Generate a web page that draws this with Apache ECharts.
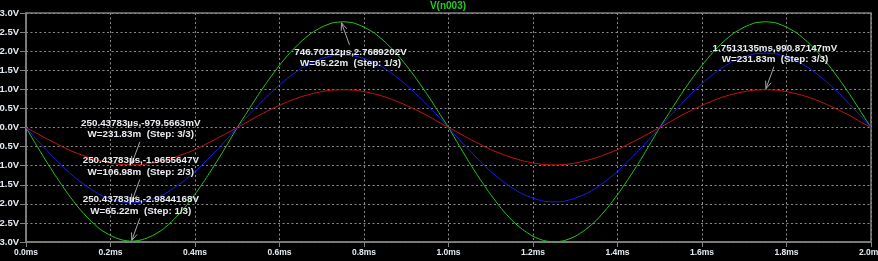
<!DOCTYPE html>
<html>
<head>
<meta charset="utf-8">
<script src="https://cdn.jsdelivr.net/npm/echarts@6/dist/echarts.min.js"></script>
<style>
html,body{margin:0;padding:0;background:#000;}
#c{width:878px;height:261px;}
</style>
</head>
<body>
<div id="c"></div>
<script>
// time points (ms)
var timeMs = [0.000,0.025,0.050,0.075,0.100,0.125,0.150,0.175,0.200,0.225,0.250,0.275,0.300,0.325,0.350,0.375,0.400,0.425,0.450,0.475,
0.500,0.525,0.550,0.575,0.600,0.625,0.650,0.675,0.700,0.725,0.750,0.775,0.800,0.825,0.850,0.875,0.900,0.925,0.950,0.975,
1.000,1.025,1.050,1.075,1.100,1.125,1.150,1.175,1.200,1.225,1.250,1.275,1.300,1.325,1.350,1.375,1.400,1.425,1.450,1.475,
1.500,1.525,1.550,1.575,1.600,1.625,1.650,1.675,1.700,1.725,1.750,1.775,1.800,1.825,1.850,1.875,1.900,1.925,1.950,1.975,2.000];

// Step 1/3 (green)
var vStep1 = [0,-0.47,-0.92,-1.35,-1.75,-2.11,-2.41,-2.66,-2.83,-2.94,-2.98,-2.94,-2.83,-2.66,-2.41,-2.11,-1.75,-1.35,-0.92,-0.47,
0,0.43,0.86,1.26,1.63,1.96,2.24,2.47,2.63,2.74,2.77,2.74,2.63,2.47,2.24,1.96,1.63,1.26,0.86,0.43,
0,-0.47,-0.93,-1.36,-1.76,-2.12,-2.43,-2.67,-2.85,-2.96,-3.0,-2.96,-2.85,-2.67,-2.43,-2.12,-1.76,-1.36,-0.93,-0.47,
0,0.43,0.86,1.26,1.63,1.96,2.24,2.47,2.63,2.74,2.77,2.74,2.63,2.47,2.24,1.96,1.63,1.26,0.86,0.43,0];

// Step 2/3 (blue)
var vStep2 = [0,-0.31,-0.61,-0.89,-1.16,-1.39,-1.59,-1.76,-1.87,-1.95,-1.97,-1.95,-1.87,-1.76,-1.59,-1.39,-1.16,-0.89,-0.61,-0.31,
0,0.30,0.59,0.86,1.12,1.34,1.54,1.69,1.81,1.88,1.90,1.88,1.81,1.69,1.54,1.34,1.12,0.86,0.59,0.30,
0,-0.31,-0.60,-0.89,-1.15,-1.38,-1.58,-1.74,-1.85,-1.93,-1.95,-1.93,-1.85,-1.74,-1.58,-1.38,-1.15,-0.89,-0.60,-0.31,
0,0.31,0.60,0.89,1.15,1.38,1.58,1.74,1.85,1.93,1.95,1.93,1.85,1.74,1.58,1.38,1.15,0.89,0.60,0.31,0];

// Step 3/3 (red)
var vStep3 = [0,-0.15,-0.30,-0.44,-0.58,-0.69,-0.79,-0.87,-0.93,-0.97,-0.98,-0.97,-0.93,-0.87,-0.79,-0.69,-0.58,-0.44,-0.30,-0.15,
0,0.15,0.31,0.45,0.58,0.70,0.80,0.88,0.94,0.98,0.99,0.98,0.94,0.88,0.80,0.70,0.58,0.45,0.31,0.15,
0,-0.15,-0.30,-0.44,-0.58,-0.69,-0.79,-0.87,-0.93,-0.97,-0.98,-0.97,-0.93,-0.87,-0.79,-0.69,-0.58,-0.44,-0.30,-0.15,
0,0.15,0.31,0.45,0.58,0.70,0.80,0.88,0.94,0.98,0.99,0.98,0.94,0.88,0.80,0.70,0.58,0.45,0.31,0.15,0];

// cursor annotations
var annT = [0.25043783, 0.25043783, 0.25043783, 0.74670112, 1.7513135];
var annV = [-0.9795663, -1.9655647, -2.9844168, 2.7689202, 0.99087147];
var annLine1 = ['250.43783\u00b5s,-979.5663mV','250.43783\u00b5s,-1.9655647V','250.43783\u00b5s,-2.9844168V','746.70112\u00b5s,2.7689202V','1.7513135ms,990.87147mV'];
var annLine2 = ['W=231.83m  (Step: 3/3)','W=106.98m  (Step: 2/3)','W=65.22m  (Step: 1/3)','W=65.22m  (Step: 1/3)','W=231.83m  (Step: 3/3)'];
var annBelow = [false,false,false,true,false];

var title = 'V(n003)';

function pairs(xs, ys){ return xs.map(function(x,i){ return [x, ys[i]]; }); }

var chart = echarts.init(document.getElementById('c'), null, {renderer:'canvas'});
var gridColor = '#8a8a8a';
var frameColor = '#808080';
var font = '"Liberation Sans", Arial, sans-serif';

function renderAnn(params, api){
  var i = params.dataIndex;
  var p = api.coord([api.value(0), api.value(1)]);
  var dir = annBelow[i] ? 1 : -1;
  var sx = p[0] + 8, sy = p[1] + dir*23;
  var ex = p[0], ey = p[1] + dir*1;
  var ang = Math.atan2(ey - sy, ex - sx);
  var L = 8, a = 0.38;
  var h1 = [ex - L*Math.cos(ang - a), ey - L*Math.sin(ang - a)];
  var h2 = [ex - L*Math.cos(ang + a), ey - L*Math.sin(ang + a)];
  var st = {stroke:'#a8a8a8', lineWidth:1, fill:null};
  return {
    type:'group',
    children:[
      {type:'line', shape:{x1:sx,y1:sy,x2:ex,y2:ey}, style:st},
      {type:'polyline', shape:{points:[h1,[ex,ey],h2]}, style:st},
      {type:'text', x:p[0]+9, y:p[1]+dir*36,
       style:{text:annLine1[i]+'\n'+annLine2[i], fill:'#e8ecf0', font:'bold 9.8px '+font,
              align:'center', verticalAlign:'middle', lineHeight:11.5}}
    ]
  };
}

chart.setOption({
  backgroundColor:'#000',
  animation:false,
  title:{text:title, left:448, top:1, padding:0, textAlign:'center',
    textStyle:{color:'#22cc22', fontSize:10, fontWeight:'bold', fontFamily:font}},
  grid:{left:26, right:7, top:13, bottom:19, containLabel:false, outerBoundsMode:'none',
    show:true, borderColor:frameColor, borderWidth:1.5, backgroundColor:'#000'},
  xAxis:{type:'value', min:0, max:2, interval:0.2,
    axisLine:{show:true, onZero:false, lineStyle:{color:frameColor, width:1.5}},
    axisTick:{show:true, inside:false, length:5, lineStyle:{color:frameColor}},
    splitLine:{show:true, lineStyle:{color:gridColor, type:[2,2.5], width:1}},
    axisLabel:{color:'#e4eaf0', fontSize:8.5, fontWeight:'bold', fontFamily:font, margin:6,
      formatter:function(v){ return v.toFixed(1)+'ms'; }}},
  yAxis:{type:'value', min:-3, max:3, interval:0.5,
    axisLine:{show:true, onZero:false, lineStyle:{color:frameColor, width:1.5}},
    axisTick:{show:true, inside:false, length:6, lineStyle:{color:frameColor}},
    splitLine:{show:true, lineStyle:{color:gridColor, type:[2,2.5], width:1}},
    axisLabel:{color:'#e4eaf0', fontSize:9.5, fontWeight:'bold', fontFamily:font, margin:7,
      formatter:function(v){ return v.toFixed(1)+'V'; }}},
  series:[
    {type:'line', name:'Step 1/3', data:pairs(timeMs, vStep1), showSymbol:false, symbol:'none',
      lineStyle:{color:'#22c822', width:1}, smooth:0.2, clip:false},
    {type:'line', name:'Step 2/3', data:pairs(timeMs, vStep2), showSymbol:false, symbol:'none',
      lineStyle:{color:'#1a1aee', width:1}, smooth:0.2},
    {type:'line', name:'Step 3/3', data:pairs(timeMs, vStep3), showSymbol:false, symbol:'none',
      lineStyle:{color:'#cc1111', width:1}, smooth:0.2},
    {type:'custom', name:'cursors', data:pairs(annT, annV), renderItem:renderAnn, clip:false, z:10,
      encode:{x:0, y:1}, silent:true}
  ]
});
</script>
</body>
</html>
